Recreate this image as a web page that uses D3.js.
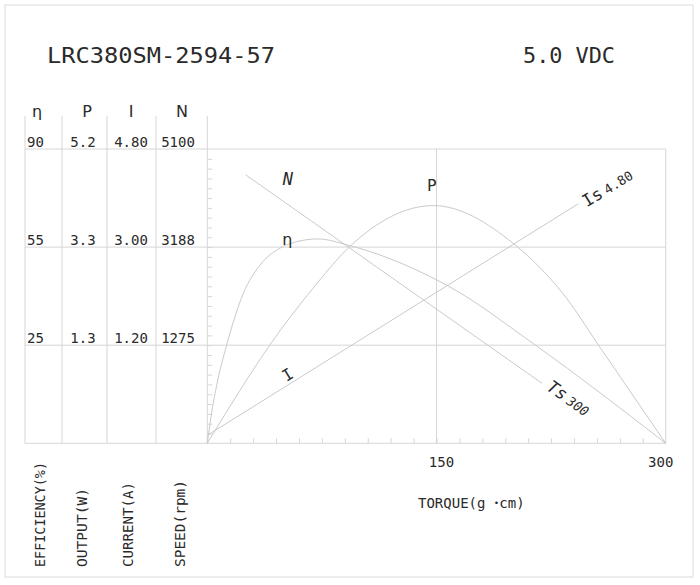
<!DOCTYPE html>
<html>
<head>
<meta charset="utf-8">
<script src="https://cdn.jsdelivr.net/npm/d3@7/dist/d3.min.js"></script>
<style>
  html, body { margin: 0; padding: 0; background: #fff; }
  svg text { font-family: "DejaVu Sans Mono", monospace; fill: #2a2a2a; }
</style>
</head>
<body>
<svg id="chart" width="700" height="585"></svg>
<script>
// ---------- data ----------
const title = "LRC380SM-2594-57";
const voltage = "5.0 VDC";
const headers = ["η", "P", "I", "N"];
const effLabels = ["90", "55", "25"];
const powerLabels = ["5.2", "3.3", "1.3"];
const currentLabels = ["4.80", "3.00", "1.20"];
const speedLabels = ["5100", "3188", "1275"];
const axisNames = ["EFFICIENCY(%)", "OUTPUT(W)", "CURRENT(A)", "SPEED(rpm)"];
const torqueTickLabels = [150, 300];

// curves (torque in g·cm)
const effTorque = [0, 3.1, 6.2, 12.7, 23.6, 34.5, 47.6, 60.7, 72.5, 92.1, 139.2, 158.8, 214.5, 300];
const effValues = [0, 10.1, 17.9, 30.1, 45.9, 54.5, 59.7, 61.9, 62.5, 60.6, 52.5, 47.8, 30.1, 0];
const powerTorque = [0, 23.6, 41, 68.3, 93.4, 147.9, 200.3, 235.2, 255.9, 300];
const powerValues = [0, 1.03, 1.74, 2.71, 3.48, 4.20, 3.53, 2.56, 1.74, 0];
const currentTorque = [0, 243];
const currentValues = [0.13, 3.91];
const speedTorque = [25, 219];
const speedValues = [4655, 1040];
const stallCurrent = "4.80";
const stallTorque = "300";

// ---------- layout ----------
const svg = d3.select("#chart");
const X0 = 207.3, X1 = 665.7, YT = 149, YB = 443.3;
const x = d3.scaleLinear([0, 300], [X0, X1]);
const yEff = d3.scaleLinear([0, 90], [YB, YT]);
const yP = d3.scaleLinear([0, 5.2], [YB, YT]);
const yI = d3.scaleLinear([0, 4.8], [YB, YT]);
const yN = d3.scaleLinear([0, 5100], [YB, YT]);
const row = d3.scaleLinear([0, 3], [YB, YT]);
const colEdges = [25, 62, 107, 156, X0];
const gridColor = "#d6d6d6", curveColor = "#cacaca";

// outer frame
svg.append("rect").attr("x", 5).attr("y", 5).attr("width", 688).attr("height", 572)
  .attr("fill", "none").attr("stroke", "#e2e2e2").attr("stroke-width", 1.2);

// title
svg.append("text").attr("x", 47).attr("y", 63).attr("font-size", 22)
  .attr("textLength", 228).attr("lengthAdjust", "spacingAndGlyphs").text(title);
svg.append("text").attr("x", 523).attr("y", 63).attr("font-size", 22)
  .attr("textLength", 92).attr("lengthAdjust", "spacingAndGlyphs").text(voltage);

// table vertical lines
const g = svg.append("g");
colEdges.forEach(cx => g.append("line").attr("x1", cx).attr("x2", cx).attr("y1", 116).attr("y2", YB)
  .attr("stroke", gridColor));
// horizontal grid lines
[0, 1, 2, 3].forEach(i => g.append("line").attr("x1", colEdges[0]).attr("x2", X1)
  .attr("y1", row(i)).attr("y2", row(i)).attr("stroke", gridColor));
// vertical at 150 and right border
[150, 300].forEach(t => g.append("line").attr("x1", x(t)).attr("x2", x(t)).attr("y1", YT).attr("y2", YB)
  .attr("stroke", gridColor));

// minor ticks (left, pointing right)
const yTickScale = d3.scaleLinear([0, 30], [YB, YT]);
svg.append("g").attr("transform", `translate(${X0},0)`)
  .call(d3.axisRight(yTickScale).tickValues(d3.range(1, 30)).tickSize(5).tickFormat(""))
  .call(s => s.select(".domain").remove())
  .call(s => s.selectAll("line").attr("stroke", gridColor));
// bottom ticks (pointing up)
svg.append("g").attr("transform", `translate(0,${YB})`)
  .call(d3.axisTop(x).tickValues(d3.range(15, 300, 15)).tickSize(5).tickFormat(""))
  .call(s => s.select(".domain").remove())
  .call(s => s.selectAll("line").attr("stroke", gridColor));

// headers
const headerX = [37, 87, 131, 182];
headers.forEach((h, i) => svg.append("text").attr("x", headerX[i]).attr("y", 117)
  .attr("text-anchor", "middle").attr("font-size", 16)
  .style("font-family", "'DejaVu Sans', sans-serif").text(h));

// row labels
const cols = [effLabels, powerLabels, currentLabels, speedLabels];
const colX = [27, 83, 131, 178];
const colAnchor = ["start", "middle", "middle", "middle"];
cols.forEach((labels, c) => labels.forEach((lab, r) => {
  svg.append("text").attr("x", colX[c]).attr("y", row(3 - r) - 2)
    .attr("text-anchor", colAnchor[c]).attr("font-size", 14).text(lab);
}));

// rotated axis names
const nameX = [45, 87, 133, 185];
const nameLen = [105, 79, 85, 87];
axisNames.forEach((n, i) => svg.append("text")
  .attr("transform", `translate(${nameX[i]},567) rotate(-90)`)
  .attr("font-size", 14).attr("textLength", nameLen[i]).attr("lengthAdjust", "spacingAndGlyphs").text(n));

// torque tick labels
torqueTickLabels.forEach((t, i) => svg.append("text")
  .attr("x", x(t) + (i === 0 ? 5 : -5)).attr("y", 467)
  .attr("text-anchor", "middle").attr("font-size", 14).text(t));
// torque title
const tt = svg.append("text").attr("x", 418).attr("y", 508).attr("font-size", 14);
tt.append("tspan").text("TORQUE(g ");
tt.append("tspan").attr("font-size", 9).attr("dy", -2).text("•");
tt.append("tspan").attr("dy", 2).text("cm)");

// ---------- curves ----------
const line = (xs, ys, yScale, curve) => d3.line()
  .x((d, i) => x(xs[i])).y((d, i) => yScale(ys[i])).curve(curve)(xs);

svg.append("path").attr("d", line(effTorque, effValues, yEff, d3.curveMonotoneX))
  .attr("fill", "none").attr("stroke", curveColor);
svg.append("path").attr("d", line(powerTorque, powerValues, yP, d3.curveMonotoneX))
  .attr("fill", "none").attr("stroke", curveColor);
svg.append("path").attr("d", line(currentTorque, currentValues, yI, d3.curveLinear))
  .attr("fill", "none").attr("stroke", curveColor);
svg.append("path").attr("d", line(speedTorque, speedValues, yN, d3.curveLinear))
  .attr("fill", "none").attr("stroke", curveColor);

// ---------- curve labels ----------
const angI = Math.atan2(yI(currentValues[1]) - yI(currentValues[0]), x(currentTorque[1]) - x(currentTorque[0])) * 180 / Math.PI;
const angN = Math.atan2(yN(speedValues[1]) - yN(speedValues[0]), x(speedTorque[1]) - x(speedTorque[0])) * 180 / Math.PI;

// N label
svg.append("text").attr("x", x(52.8)).attr("y", yN(4476)).attr("text-anchor", "middle")
  .attr("font-size", 17).attr("font-style", "italic").text("N");
// eta label
svg.append("text").attr("x", x(52.3)).attr("y", yEff(60.5)).attr("text-anchor", "middle")
  .attr("font-size", 16).style("font-family", "'DejaVu Sans', sans-serif").text("η");
// P label
svg.append("text").attr("x", x(147)).attr("y", yP(4.45)).attr("text-anchor", "middle")
  .attr("font-size", 16).text("P");
// I label
svg.append("text").attr("transform", `translate(${x(52.5)},${yI(1.12)}) rotate(${angI})`)
  .attr("text-anchor", "middle").attr("dy", "0.35em").attr("font-size", 16).text("I");
// Is label
const isL = svg.append("text")
  .attr("transform", `translate(${x(currentTorque[1]) + 5},${yI(currentValues[1]) - 1}) rotate(${angI})`)
  .attr("dy", "0.35em").attr("font-size", 17);
isL.append("tspan").text("Is");
isL.append("tspan").attr("font-size", 13).attr("dx", 4).text(stallCurrent);
// Ts label
const tsL = svg.append("text")
  .attr("transform", `translate(${x(speedTorque[1]) + 7},${yN(speedValues[1]) + 1}) rotate(${angN})`)
  .attr("dy", "0.35em").attr("font-size", 17).attr("font-style", "italic");
tsL.append("tspan").text("Ts");
tsL.append("tspan").attr("font-size", 13).attr("dx", 4).text(stallTorque);
</script>
</body>
</html>
